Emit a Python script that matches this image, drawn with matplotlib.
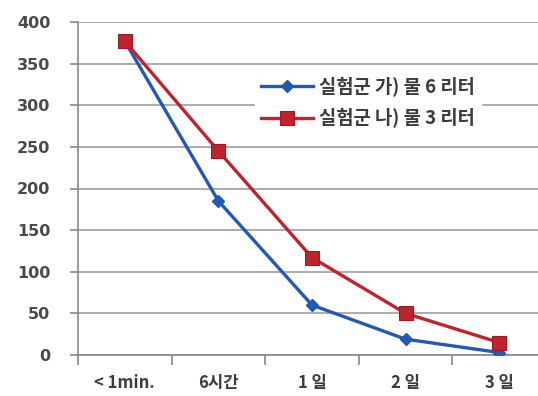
import matplotlib
matplotlib.use("Agg")
import matplotlib.pyplot as plt
from matplotlib.ticker import FixedLocator, MultipleLocator

plt.rcParams['font.family'] = ['Noto Sans CJK KR', 'DejaVu Sans']

categories = ["< 1min.", "6시간", "1 일", "2 일", "3 일"]
series_a = [377, 185, 60, 19, 3]
series_b = [377, 245, 117, 50, 15]
label_a = "실험군 가) 물 6 리터"
label_b = "실험군 나) 물 3 리터"

blue = "#2259B5"
red = "#C0232B"
grid_col = "#A6A6A6"
text_col = "#3C3C3C"

W, H = 538, 396
fig = plt.figure(figsize=(W / 100, H / 100), dpi=100)
fig.patch.set_facecolor("white")

left, right, bottom, top = 78, 546, 355, 22
ax = fig.add_axes([left / W, (H - bottom) / H, (right - left) / W, (bottom - top) / H])

x = list(range(len(categories)))
ax.plot(x, series_a, color=blue, lw=2.4, marker="D", ms=6.5, mfc=blue, mec=blue,
        label=label_a, zorder=3, solid_joinstyle="round")
ax.plot(x, series_b, color=red, lw=2.4, marker="s", ms=10.5, mfc=red, mec="#A01820",
        mew=0.8, label=label_b, zorder=4, solid_joinstyle="round")

ax.set_xlim(-0.5, len(categories) - 0.5)
ax.set_ylim(0, 400)
ax.yaxis.set_major_locator(MultipleLocator(50))
ax.grid(axis="y", color=grid_col, lw=1.3)
ax.set_axisbelow(True)

ax.set_xticks(x)
ax.set_xticklabels(categories)
ax.xaxis.set_minor_locator(FixedLocator([i - 0.5 for i in range(len(categories) + 1)]))
ax.tick_params(axis="x", which="major", length=0, pad=14, labelsize=12,
               labelcolor=text_col)
ax.tick_params(axis="x", which="minor", length=7, width=1.2, color="#888888",
               direction="out")
ax.tick_params(axis="y", length=6, width=1.2, color="#888888", direction="out",
               pad=14, labelcolor="#4A4A4A")
for lab in ax.get_yticklabels():
    lab.set_fontfamily("DejaVu Sans")
    lab.set_fontweight("bold")
    lab.set_fontsize(11.5)
for lab in ax.get_xticklabels():
    lab.set_fontweight("bold")

for s in ("top", "right"):
    ax.spines[s].set_visible(False)
for s in ("left", "bottom"):
    ax.spines[s].set_color("#888888")
    ax.spines[s].set_linewidth(1.2)

leg = ax.legend(loc="upper left", bbox_to_anchor=(246 / W, 1 - 62 / H),
                bbox_transform=fig.transFigure, frameon=True, fancybox=False,
                handlelength=2.8, handletextpad=0.3, labelspacing=0.6,
                borderpad=0.3, prop={"weight": "bold", "size": 13.5})
leg.get_frame().set_facecolor("white")
leg.get_frame().set_edgecolor("white")
leg.get_frame().set_alpha(1)
for t in leg.get_texts():
    t.set_color(text_col)

fig.savefig("out.png", dpi=100, facecolor="white")
